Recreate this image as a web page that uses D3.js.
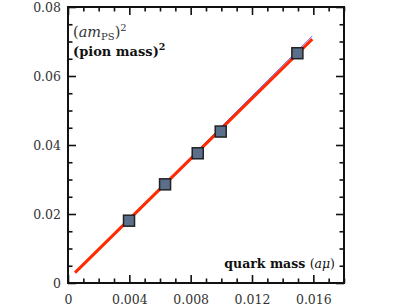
<!DOCTYPE html>
<html><head><meta charset="utf-8">
<script src="https://cdn.jsdelivr.net/npm/d3@7"></script>
<style>
html,body{margin:0;padding:0;background:#fff;}
</style></head>
<body><svg id="c" width="409" height="307"></svg>
<script>
// Data
const quarkMass = [0.00398, 0.00633, 0.00846, 0.00996, 0.01496];
const pionMass2 = [0.01806, 0.0286, 0.0376, 0.0439, 0.0666];
const fitX = [0.00046, 0.01593];
const fitY = [0.0030, 0.0707];
const fitBlueY = [0.0030, 0.0716];
const xTickLabels = ["0", "0.004", "0.008", "0.012", "0.016"];
const yTickLabels = ["0", "0.02", "0.04", "0.06", "0.08"];
const xMajor = [0, 0.004, 0.008, 0.012, 0.016];
const yMajor = [0, 0.02, 0.04, 0.06, 0.08];

const FONT = "'DejaVu Serif', 'Liberation Serif', serif";
const svg = d3.select("#c");
const L = 68, R = 344, T = 7, B = 283;
const x = d3.scaleLinear().domain([0, 0.018]).range([L, R]);
const y = d3.scaleLinear().domain([0, 0.08]).range([B, T]);

const xMinor = d3.range(0, 0.0181, 0.001).filter(v => !xMajor.some(m => Math.abs(m - v) < 1e-9));
const yMinor = d3.range(0, 0.0801, 0.005).filter(v => !yMajor.some(m => Math.abs(m - v) < 1e-9));

function addAxis(axisFn, scale, vals, len, transform, labels) {
  const g = svg.append("g").attr("transform", transform)
    .call(axisFn(scale).tickValues(vals).tickSizeInner(-len).tickSizeOuter(0)
      .tickFormat(labels ? (d, i) => labels[i] : ""));
  g.attr("font-family", FONT).attr("font-size", 12.5);
  g.select(".domain").remove();
  g.selectAll(".tick line").attr("stroke", "#111").attr("stroke-width", 1.6);
  g.selectAll("text").attr("fill", "#333").attr("font-family", FONT);
  return g;
}
// bottom
const gb = addAxis(d3.axisBottom, x, xMajor, 8, `translate(0,${B})`, xTickLabels);
gb.selectAll("text").attr("y", 12);
addAxis(d3.axisBottom, x, xMinor, 4.5, `translate(0,${B})`, null);
// top
addAxis(d3.axisTop, x, xMajor, 8, `translate(0,${T})`, null);
addAxis(d3.axisTop, x, xMinor, 4.5, `translate(0,${T})`, null);
// left
const gl = addAxis(d3.axisLeft, y, yMajor, 8, `translate(${L},0)`, yTickLabels);
gl.selectAll("text").attr("x", -7);
addAxis(d3.axisLeft, y, yMinor, 4.5, `translate(${L},0)`, null);
// right
addAxis(d3.axisRight, y, yMajor, 8, `translate(${R},0)`, null);
addAxis(d3.axisRight, y, yMinor, 4.5, `translate(${R},0)`, null);

// frame
svg.append("rect").attr("x", L).attr("y", T).attr("width", R - L).attr("height", B - T)
  .attr("fill", "none").attr("stroke", "#111").attr("stroke-width", 2);

// fit lines
const line = d3.line().x(d => x(d[0])).y(d => y(d[1]));
svg.append("path").datum(d3.zip(fitX, fitBlueY)).attr("d", line)
  .attr("stroke", "#6a6aff").attr("stroke-width", 1).attr("fill", "none");
svg.append("path").datum(d3.zip(fitX, fitY)).attr("d", line)
  .attr("stroke", "#ff2a00").attr("stroke-width", 3).attr("fill", "none");

// points
const s = 11;
svg.append("g").selectAll("rect").data(d3.zip(quarkMass, pionMass2)).join("rect")
  .attr("x", d => x(d[0]) - s / 2).attr("y", d => y(d[1]) - s / 2)
  .attr("width", s).attr("height", s)
  .attr("fill", "#5b6f8a").attr("stroke", "#222").attr("stroke-width", 1.5);

// labels
const t1 = svg.append("text").attr("x", 73).attr("y", 37).attr("font-family", FONT).attr("font-size", 14.5).attr("fill", "#333");
t1.append("tspan").text("(");
t1.append("tspan").attr("font-style", "italic").text("am");
t1.append("tspan").attr("dy", 3).attr("font-size", 10).text("PS");
t1.append("tspan").attr("dy", -3).text(")");
t1.append("tspan").attr("dy", -6).attr("font-size", 10).text("2");

const t2 = svg.append("text").attr("x", 73).attr("y", 56).attr("font-family", FONT).attr("font-size", 13).attr("font-weight", "bold").attr("fill", "#111");
t2.append("tspan").text("(pion mass)");
t2.append("tspan").attr("dy", -6).attr("font-size", 9.5).text("2");

const t3 = svg.append("text").attr("x", 335).attr("y", 268).attr("text-anchor", "end").attr("font-family", FONT).attr("font-size", 12.5).attr("fill", "#111");
t3.append("tspan").attr("font-weight", "bold").text("quark mass ");
t3.append("tspan").text("(");
t3.append("tspan").attr("font-style", "italic").text("aμ");
t3.append("tspan").text(")");
</script></body></html>
